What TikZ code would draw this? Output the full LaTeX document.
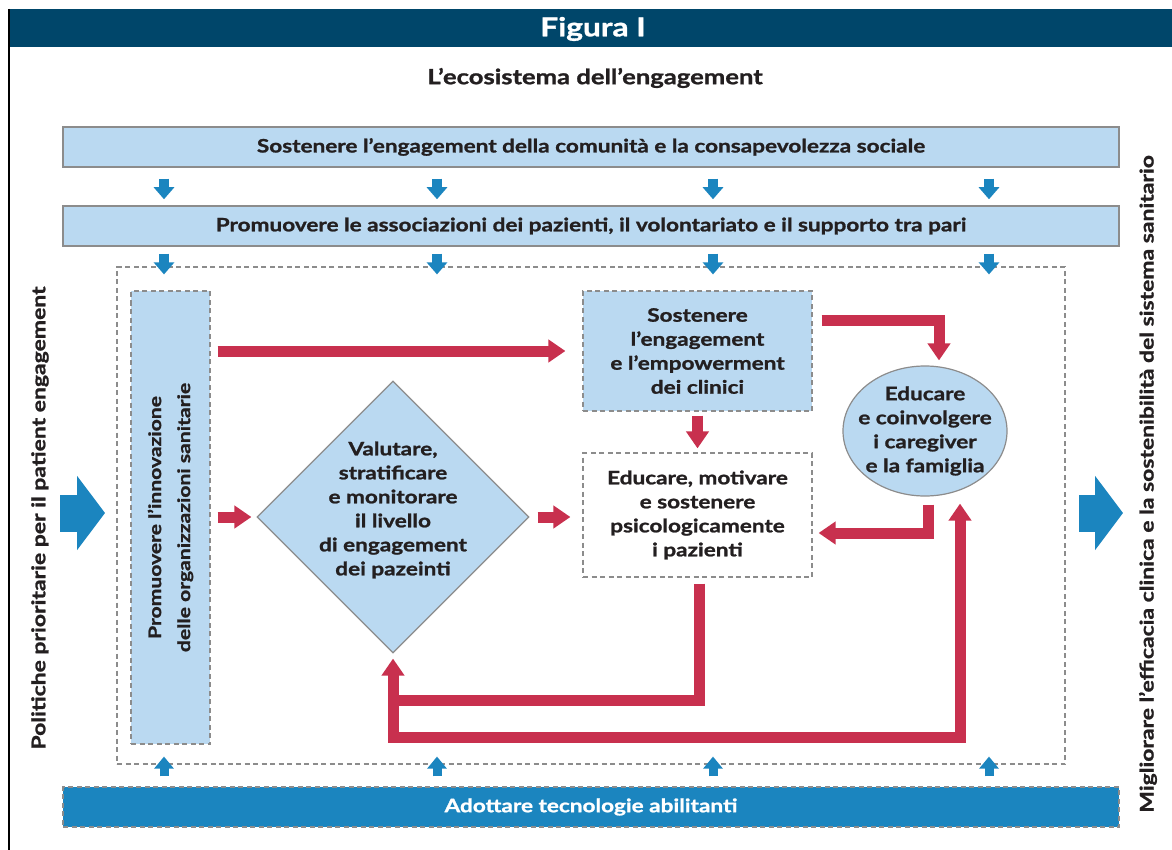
\documentclass[tikz,border=0pt]{standalone}
\usepackage{fontspec}
\setmainfont{Lato}[FakeStretch=1.22, BoldFeatures={FakeBold=1.2}]
\usetikzlibrary{arrows.meta,calc,shapes.geometric}
\definecolor{hdr}{RGB}{0,70,106}
\definecolor{lblue}{RGB}{186,217,241}
\definecolor{dblue}{RGB}{27,133,191}
\definecolor{redc}{RGB}{200,48,78}
\definecolor{bordc}{RGB}{140,140,140}
\definecolor{ink}{RGB}{35,31,32}
\tikzset{
  txt/.style={font=\fontsize{18.5}{24}\selectfont\bfseries, text=ink, align=center},
  solidbox/.style={draw=bordc, line width=1.5pt, fill=lblue, inner sep=0pt},
  dashbox/.style={draw=bordc, line width=1.2pt, dash pattern=on 5pt off 3.5pt, inner sep=0pt},
  redarr/.style={draw=redc, line width=11pt, -{Triangle[width=22pt,length=17pt]}},
  bluearr/.style={draw=dblue, line width=10pt, -{Triangle[width=20pt,length=12pt]}},
  bigarr/.style={draw=dblue, line width=37pt, -{Triangle[width=73pt,length=28pt]}},
  sidetxt/.style={txt, rotate=90, font=\fontsize{18.8}{22}\selectfont\bfseries},
}
\begin{document}
\begin{tikzpicture}[x=1pt,y=-1pt]
\useasboundingbox (0,0) rectangle (1172,850);
\fill[white] (0,0) rectangle (1172,850);
% header
\fill[hdr] (8,9) rectangle (1172,47);
\draw[black, line width=2.5pt] (9,9) -- (9,850);
\node[font=\fontsize{26}{30}\selectfont\bfseries, text=white] (fig) at (593,29) {Figura I};
\node[txt, font=\fontsize{21}{24}\selectfont\bfseries] (sub) at (595,78) {L’ecosistema dell’engagement};
% top boxes
\node[solidbox, minimum width=1056pt, minimum height=40pt] (b1) at (591,147) {};
\node[txt] at (b1) {Sostenere l’engagement della comunità e la consapevolezza sociale};
\node[solidbox, minimum width=1056pt, minimum height=40pt] (b2) at (591,226) {};
\node[txt] at (b2) {Promuovere le associazioni dei pazienti, il volontariato e il supporto tra pari};
% outer dashed frame
\node[dashbox, minimum width=948pt, minimum height=497pt] (outer) at (591,515.5) {};
% bottom bar
\node[dashbox, fill=dblue, minimum width=1056pt, minimum height=40pt] (bar) at (591,807) {};
\node[txt, text=white] at (bar) {Adottare tecnologie abilitanti};
% blue arrows
\foreach \xx [count=\i] in {164,437,713,989} {
  \coordinate (c\i) at (\xx,0);
  \draw[bluearr] ($(c\i |- b1.south)+(0,11)$) -- ($(c\i |- b2.north)+(0,-6)$);
  \draw[bluearr] ($(c\i |- b2.south)+(0,7)$) -- ($(c\i |- outer.north)+(0,8)$);
  \draw[bluearr, line width=9pt, -{Triangle[width=19pt,length=12pt]}] ($(c\i |- bar.north)+(0,-10)$) -- ($(c\i |- outer.south)+(0,-8)$);
}
% left vertical box
\node[dashbox, fill=lblue, minimum width=79pt, minimum height=453pt] (lb) at (170.5,517.5) {};
\node[txt, rotate=90, font=\fontsize{17.3}{29}\selectfont\bfseries] at (lb) {Promuovere l’innovazione\\delle organizzazioni sanitarie};
% clinicians box
\node[dashbox, fill=lblue, minimum width=229pt, minimum height=120pt] (clin) at (697.5,351) {};
\node[txt] at (clin) {Sostenere\\l’engagement\\e l’empowerment\\dei clinici};
% patients box
\node[dashbox, fill=white, minimum width=229pt, minimum height=124pt] (pat) at (697.5,515) {};
\node[txt] at (pat) {Educare, motivare\\e sostenere\\psicologicamente\\i pazienti};
% diamond
\node[diamond, draw=bordc, line width=1.2pt, fill=lblue, inner sep=0pt, minimum width=272pt, minimum height=272pt] (dia) at (393,517) {};
\node[txt] at (393,510) {Valutare,\\stratificare\\e monitorare\\il livello\\di engagement\\dei pazeinti};
% ellipse
\node[ellipse, draw=bordc, line width=1.2pt, fill=lblue, inner sep=0pt, minimum width=164pt, minimum height=130pt] (ell) at (925,431) {};
\node[txt] at (ell) {Educare\\e coinvolgere\\i caregiver\\e la famiglia};
% side arrows and texts
\coordinate (la) at (60,513);
\coordinate (ra) at (1079,513);
\draw[bigarr] (la) -- ($(la)+(45,0)$);
\draw[bigarr] (ra) -- ($(ra)+(44,0)$);
\node[sidetxt] (lt) at (40,518) {Politiche prioritarie per il patient engagement};
\node[sidetxt] (rt) at (1148,484) {Migliorare l’efficacia clinica e la sostenibilità del sistema sanitario};
% red connectors
\draw[redarr] ([xshift=7pt]lb.east |- clin.west) -- ([xshift=-17pt]clin.west);
\draw[redarr] ($(clin.north east)+(9,30.5)$) -| ($(ell.north)+(14,-5)$);
\draw[redarr] ([yshift=-4pt]clin.south) -- ([yshift=4pt]pat.north);
\draw[redarr] ([xshift=7pt]lb.east |- dia.west) -- ([xshift=-5pt]dia.west);
\draw[redarr] ([xshift=8pt]dia.east) -- ([xshift=-12pt]pat.west |- dia.east);
\draw[redarr] ($(ell.south)+(3,8)$) |- ($(pat.east)+(6,18)$);
\coordinate (yin) at (0,700);
\coordinate (yout) at (0,737);
\draw[redarr] ($(pat.south)+(1.5,6)$) |- (dia.south |- yin) -- ([yshift=-5pt]dia.south);
\draw[redarr] (dia.south |- yin) -- (dia.south |- yout) -| ($(ell.south)+(35,7)$);
\end{tikzpicture}
\end{document}
